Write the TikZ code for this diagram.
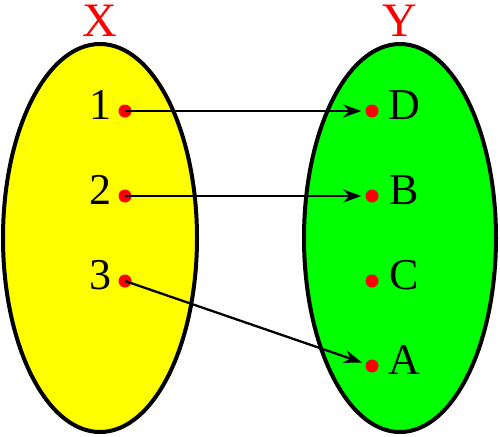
\documentclass[tikz,border=0pt]{standalone}
\usepackage{fontspec}
\setmainfont{Liberation Serif}
\usetikzlibrary{arrows.meta}
\definecolor{setyellow}{RGB}{255,255,0}
\definecolor{setgreen}{RGB}{0,255,0}
\definecolor{ptred}{RGB}{255,0,0}
\begin{document}
\begin{tikzpicture}[x=1pt,y=-1pt,
  setbox/.style={draw=black,line width=4pt},
  dotpt/.style={circle,fill=ptred,inner sep=0pt,minimum size=13pt},
  lbl/.style={font=\fontsize{44}{44}\selectfont,inner sep=0pt},
  title/.style={font=\fontsize{48}{48}\selectfont,text=ptred,inner sep=0pt},
  conn/.style={line width=2.3pt,-{Stealth[length=18pt,width=13pt]},shorten >=4pt}]
\useasboundingbox (0,0) rectangle (500,436);
\fill[setyellow,setbox] (100,238) ellipse [x radius=97, y radius=194];
\fill[setgreen,setbox] (400,238) ellipse [x radius=96, y radius=194];
\node[title] (X) at (100,21) {X};
\node[title] (Y) at (400,21) {Y};
\node[dotpt] (p1) at (125,111) {};
\node[dotpt] (p2) at (125,196) {};
\node[dotpt] (p3) at (125,281) {};
\node[dotpt] (qD) at (372,111) {};
\node[dotpt] (qB) at (372,196) {};
\node[dotpt] (qC) at (372,281) {};
\node[dotpt] (qA) at (372,366) {};
\node[lbl] (l1) at (100,105) {1};
\node[lbl] (l2) at (100,190) {2};
\node[lbl] (l3) at (100,275) {3};
\node[lbl] (lD) at (404,105) {D};
\node[lbl] (lB) at (404,190) {B};
\node[lbl] (lC) at (404,275) {C};
\node[lbl] (lA) at (404,360) {A};
\draw[conn] (p1.center) -- (qD);
\draw[conn] (p2.center) -- (qB);
\draw[conn] (p3.center) -- (qA);
\end{tikzpicture}
\end{document}
